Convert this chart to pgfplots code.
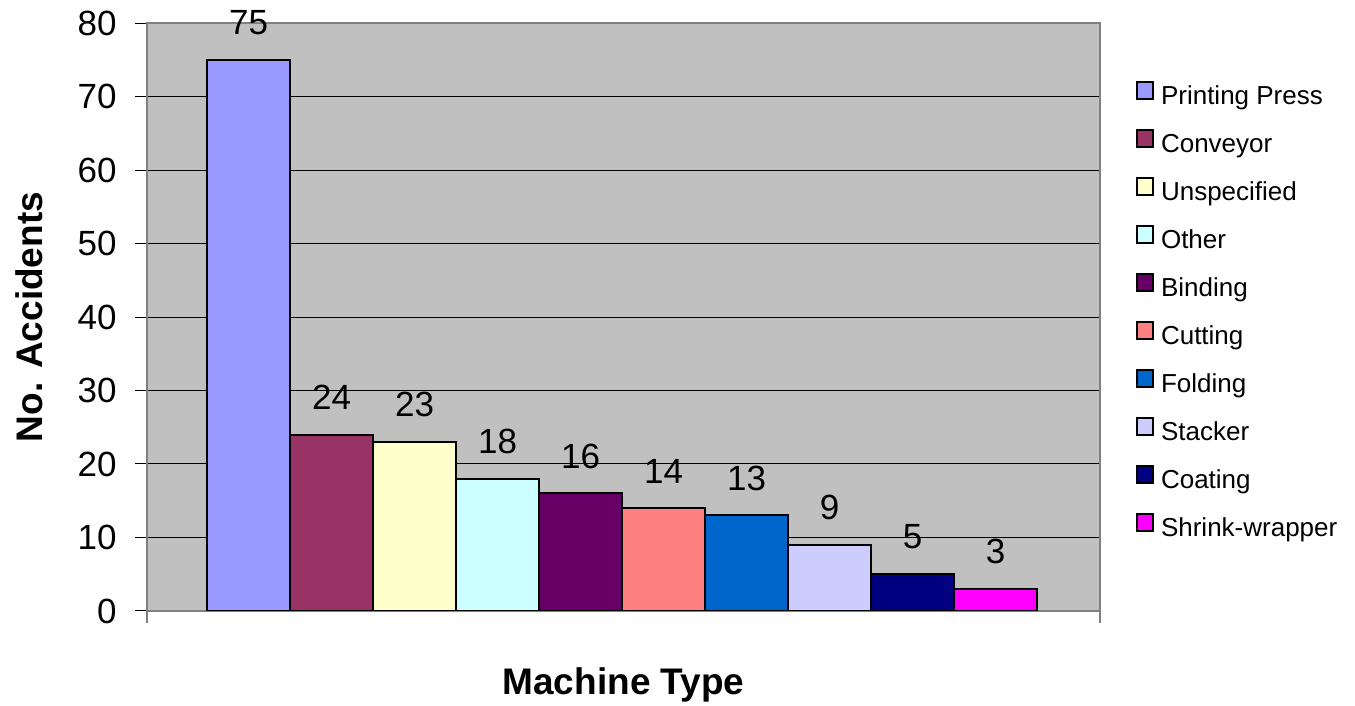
\documentclass[border=0pt]{standalone}
\usepackage{fontspec}
\setmainfont{Liberation Sans}
\usepackage{pgfplots}
\pgfplotsset{compat=1.18}

\definecolor{cPress}{HTML}{9999FF}
\definecolor{cConv}{HTML}{993366}
\definecolor{cUnsp}{HTML}{FFFFCC}
\definecolor{cOther}{HTML}{CCFFFF}
\definecolor{cBind}{HTML}{660066}
\definecolor{cCut}{HTML}{FF8080}
\definecolor{cFold}{HTML}{0066CC}
\definecolor{cStack}{HTML}{CCCCFF}
\definecolor{cCoat}{HTML}{000080}
\definecolor{cShrink}{HTML}{FF00FF}
\definecolor{plotbg}{HTML}{C0C0C0}
\definecolor{frame}{HTML}{808080}

\begin{document}
\begin{tikzpicture}
  \begin{axis}[
    at={(0,0)}, anchor=south west,
    scale only axis,
    width=476.5pt, height=294pt,
    % one bar per machine type, 1 unit wide
    xmin=-1.223, xmax=10.259,
    ymin=0, ymax=80,
    ytick={0,10,...,80},
    xtick={-1.223,10.259},
    xticklabels={},
    xtick pos=bottom, ytick pos=left,
    tick align=outside,
    major tick length=6pt,
    xtick style={draw=frame, line width=0.6pt},
    ytick style={draw=black, line width=0.5pt},
    ymajorgrids,
    major grid style={black, line width=0.5pt},
    axis background/.style={fill=plotbg},
    axis line style={draw=frame, line width=1pt},
    /pgf/number format/assume math mode=true,
    ticklabel style={font=\fontsize{17.5}{21}\selectfont},
    yticklabel style={inner sep=0pt, xshift=-9pt},
    every axis x label/.style={at={(axis description cs:0.5,-0.1412)}, anchor=base},
    every axis y label/.style={at={(axis description cs:-0.1238,0.5)}, rotate=90, anchor=center},
    label style={font=\fontsize{18.5}{22}\selectfont\bfseries},
    xlabel={Machine Type},
    ylabel={No. Accidents},
    every axis plot/.append style={ybar, bar width=1, bar shift=0pt, draw=black, line width=1pt},
    nodes near coords,
    every node near coord/.append style={anchor=south, inner sep=0pt, yshift=12pt,
      font=\fontsize{17.5}{21}\selectfont, text=black},
    legend cell align=left,
    legend image code/.code={\draw[#1, line width=1pt] (0pt,-1pt) rectangle (8pt,7.5pt);},
    legend style={
      draw=none, fill=none,
      at={(axis description cs:1.0378,0.9150)},
      anchor=north west,
      inner sep=0pt, outer sep=0pt,
      row sep=0pt, column sep=3.5pt,
      font=\fontsize{13}{15}\selectfont,
      nodes={inner sep=0pt, text height=16pt, text depth=8pt},
    },
  ]

  \addplot[fill=cPress]   coordinates {(0,75)};
  \addplot[fill=cConv]    coordinates {(1,24)};
  \addplot[fill=cUnsp]    coordinates {(2,23)};
  \addplot[fill=cOther]   coordinates {(3,18)};
  \addplot[fill=cBind]    coordinates {(4,16)};
  \addplot[fill=cCut]     coordinates {(5,14)};
  \addplot[fill=cFold]    coordinates {(6,13)};
  \addplot[fill=cStack]   coordinates {(7,9)};
  \addplot[fill=cCoat]    coordinates {(8,5)};
  \addplot[fill=cShrink]  coordinates {(9,3)};

  \legend{Printing Press,Conveyor,Unspecified,Other,Binding,Cutting,Folding,Stacker,Coating,Shrink-wrapper}
  \end{axis}
  \pgfresetboundingbox
  \path[use as bounding box] (-73.5pt,-47.5pt) rectangle (604pt,305.5pt);
\end{tikzpicture}
\end{document}
